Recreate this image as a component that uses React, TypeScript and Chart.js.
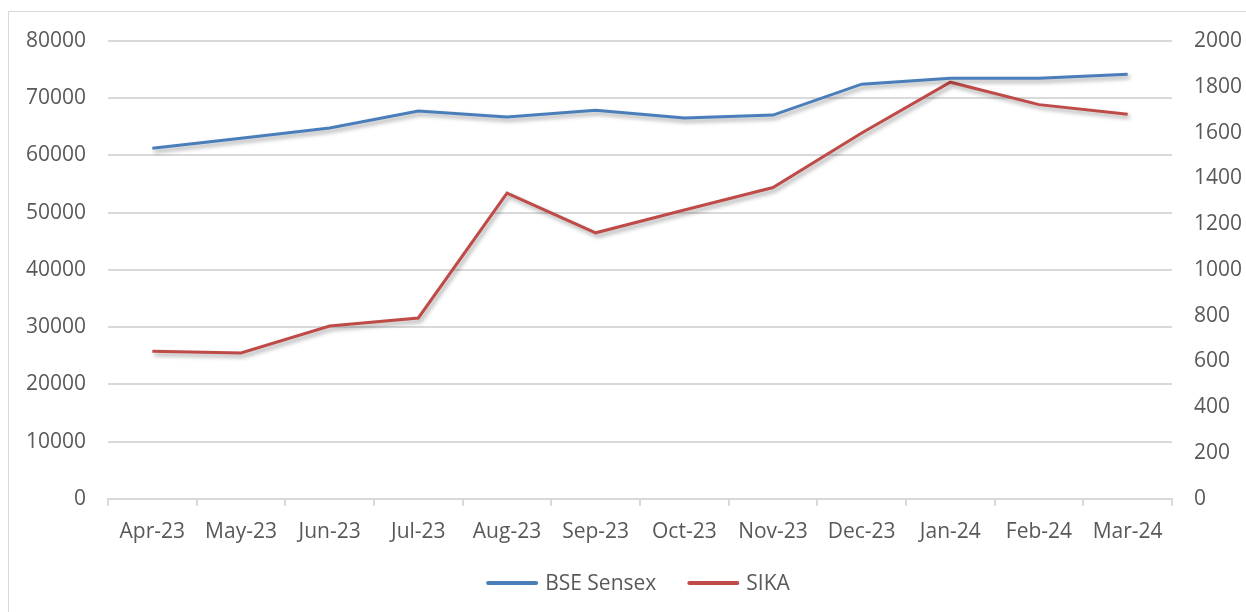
import React, { useEffect, useRef } from "react";
import { Chart, registerables } from "chart.js";

Chart.register(...registerables);

const months = ["Apr-23", "May-23", "Jun-23", "Jul-23", "Aug-23", "Sep-23", "Oct-23", "Nov-23", "Dec-23", "Jan-24", "Feb-24", "Mar-24"];
const bseSensex = [61270, 63000, 64800, 67750, 66700, 67900, 66550, 67050, 72450, 73500, 73480, 74200];
const sika = [645, 637, 755, 790, 1335, 1162, 1262, 1360, 1598, 1820, 1722, 1680];

const FONT = "'Open Sans', 'Noto Sans', sans-serif";
const GRAY = "#595959";
const GRID = "#d9d9d9";

const shadowPlugin = {
  id: "lineShadow",
  beforeDatasetDraw(chart: any) {
    const ctx = chart.ctx;
    ctx.save();
    ctx.shadowColor = "rgba(0,0,0,0.35)";
    ctx.shadowBlur = 4;
    ctx.shadowOffsetX = 2;
    ctx.shadowOffsetY = 3;
  },
  afterDatasetDraw(chart: any) {
    chart.ctx.restore();
  },
};

const legendPlugin = {
  id: "bottomLegend",
  afterDraw(chart: any) {
    const ctx = chart.ctx;
    const area = chart.chartArea;
    ctx.save();
    ctx.font = `21px ${FONT}`;
    const boxW = 52;
    const gap = 7;
    const spacing = 31;
    const items = chart.data.datasets.map((ds: any) => ({
      label: ds.label,
      color: ds.borderColor,
      w: ctx.measureText(ds.label).width,
    }));
    let total = 0;
    items.forEach((it: any, i: number) => {
      total += boxW + gap + it.w + (i > 0 ? spacing : 0);
    });
    let x = (area.left + area.right) / 2 - 2 - total / 2;
    const y = 571;
    items.forEach((it: any) => {
      ctx.strokeStyle = it.color;
      ctx.lineWidth = 4;
      ctx.lineCap = "round";
      ctx.beginPath();
      ctx.moveTo(x + 2, y);
      ctx.lineTo(x + boxW - 2, y);
      ctx.stroke();
      ctx.fillStyle = GRAY;
      ctx.textAlign = "left";
      ctx.textBaseline = "middle";
      ctx.fillText(it.label, x + boxW + gap, y + 1);
      x += boxW + gap + it.w + spacing;
    });
    ctx.restore();
  },
};

const plain = (v: any) => String(v);

export default function App() {
  const ref = useRef<HTMLCanvasElement | null>(null);
  useEffect(() => {
    document.body.style.overflow = "hidden";
    document.body.style.margin = "0";
    const chart = new Chart(ref.current as HTMLCanvasElement, {
      type: "line",
      data: {
        labels: months,
        datasets: [
          {
            label: "BSE Sensex",
            data: bseSensex,
            borderColor: "#4a7ebb",
            backgroundColor: "#4a7ebb",
            borderWidth: 3,
            pointRadius: 0,
            tension: 0,
            yAxisID: "y",
          },
          {
            label: "SIKA",
            data: sika,
            borderColor: "#be4b48",
            backgroundColor: "#be4b48",
            borderWidth: 3,
            pointRadius: 0,
            tension: 0,
            yAxisID: "y1",
          },
        ],
      },
      options: {
        responsive: false,
        animation: false,
        layout: { padding: { left: 17, right: 0, top: 29, bottom: 53 } },
        plugins: {
          tooltip: { enabled: false },
          legend: { display: false },
        },
        scales: {
          x: {
            offset: true,
            grid: { offset: true, drawOnChartArea: false, drawTicks: true, tickLength: 7, color: GRID, lineWidth: 2 },
            border: { color: GRID, width: 2 },
            ticks: { color: GRAY, font: { family: FONT, size: 21 }, padding: 14, maxRotation: 0 },
          },
          y: {
            position: "left",
            min: 0,
            max: 80000,
            grid: { color: GRID, lineWidth: 2, drawTicks: false },
            border: { display: false },
            ticks: { stepSize: 10000, color: GRAY, font: { family: FONT, size: 21 }, padding: 22, callback: plain },
            afterFit: (s: any) => { s.width = 82; s.paddingTop = 0; s.paddingBottom = 0; },
          },
          y1: {
            position: "right",
            min: 0,
            max: 2000,
            grid: { display: false, drawTicks: false },
            border: { display: false },
            ticks: { stepSize: 200, color: GRAY, font: { family: FONT, size: 21 }, padding: 22, callback: plain },
            afterFit: (s: any) => { s.width = 74; s.paddingTop = 0; s.paddingBottom = 0; },
          },
        },
      },
      plugins: [shadowPlugin, legendPlugin],
    } as any);
    return () => chart.destroy();
  }, []);
  return (
    <div style={{ position: "absolute", left: 8, top: 11, borderLeft: "1px solid #d9d9d9", borderTop: "1px solid #d9d9d9", width: 1238, height: 601, boxSizing: "border-box" }}>
      <canvas ref={ref} width={1237} height={600} style={{ display: "block" }} />
    </div>
  );
}
